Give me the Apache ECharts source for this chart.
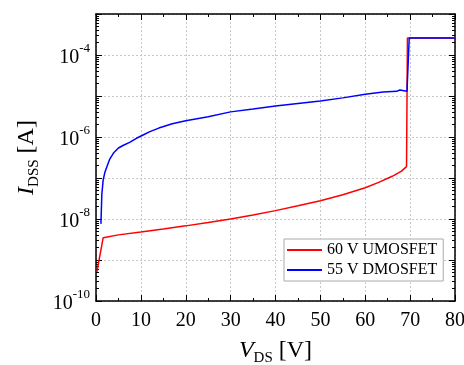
<!DOCTYPE html>
<html>
<head>
<meta charset="utf-8">
<script src="https://cdn.jsdelivr.net/npm/echarts@6/dist/echarts.min.js"></script>
<style>
  html, body { margin: 0; background: #fff; }
  #chart { width: 464px; height: 365px; }
</style>
</head>
<body>
<div id="chart"></div>
<script>
// 60 V UMOSFET
const umosV = [0.2, 1.6, 5, 10, 15, 20, 25, 30, 35, 40, 45, 50, 55, 60, 63, 66, 68, 69.2, 69.4, 80]
const umosI = [5.1e-10, 3.5e-9, 4.1e-9, 4.8e-9, 5.7e-9, 6.8e-9, 8.2e-9, 1.0e-8, 1.25e-8, 1.6e-8, 2.1e-8, 2.8e-8, 3.9e-8, 5.8e-8, 7.8e-8, 1.1e-7, 1.45e-7, 1.9e-7, 2.6e-4, 2.6e-4]

// 55 V DMOSFET
const dmosV = [1.1, 1.3, 1.6, 2, 3, 4, 5, 6, 7.5, 9, 10.5, 12, 14, 17, 20, 25, 30, 35, 40, 45, 50, 55, 60, 64, 67, 67.7, 69.3, 69.8, 80]
const dmosI = [7.6e-9, 4e-8, 9e-8, 1.4e-7, 2.8e-7, 4.2e-7, 5.4e-7, 6.2e-7, 7.4e-7, 9.3e-7, 1.12e-6, 1.35e-6, 1.65e-6, 2.1e-6, 2.5e-6, 3.1e-6, 4.1e-6, 4.8e-6, 5.7e-6, 6.6e-6, 7.6e-6, 9.0e-6, 1.1e-5, 1.25e-5, 1.3e-5, 1.4e-5, 1.3e-5, 2.6e-4, 2.6e-4]

const xMin = 0, xMax = 80, xStep = 10
const yDecades = [-10, -9, -8, -7, -6, -5, -4, -3]
const yLabelExps = [-10, -8, -6, -4]

const font = 'Liberation Serif'
const majorTicks = yDecades.map(e => Math.pow(10, e))
const minorTicks = []
yDecades.slice(0, -1).forEach(e => {
  for (let k = 2; k <= 9; k++) minorTicks.push(k * Math.pow(10, e))
})

const chart = echarts.init(document.getElementById('chart'))

const axisLine = { show: true, lineStyle: { color: '#000', width: 1.5 } }
const gridLine = { show: true, lineStyle: { color: '#c8c8c8', type: [2, 2], width: 1 } }

function yAxisBase(position, ticks, len, withLabels) {
  return {
    type: 'log',
    logBase: 10,
    min: 1e-10,
    max: 1e-3,
    position,
    axisLine: withLabels === null ? { show: false } : axisLine,
    axisTick: { show: true, inside: true, length: len, customValues: ticks, lineStyle: { color: '#000', width: 1 } },
    axisLabel: withLabels ? {
      customValues: yLabelExps.map(e => Math.pow(10, e)),
      margin: 6,
      formatter: v => '{b|10}{e|' + Math.round(Math.log10(v)) + '}',
      rich: {
        b: { fontFamily: font, fontSize: 20, color: '#000', lineHeight: 26, verticalAlign: 'bottom' },
        e: { fontFamily: font, fontSize: 13, color: '#000', lineHeight: 26, verticalAlign: 'top', padding: [0, 0, 10, 0] }
      }
    } : { show: false },
    splitLine: { show: false }
  }
}

const nameRich = {
  i: { fontFamily: font, fontStyle: 'italic', fontSize: 24, color: '#000', lineHeight: 30 },
  s: { fontFamily: font, fontSize: 15, color: '#000', lineHeight: 14, verticalAlign: 'bottom' },
  n: { fontFamily: font, fontSize: 24, color: '#000', lineHeight: 30 }
}

const yMain = yAxisBase('left', majorTicks, 6, true)
yMain.splitLine = gridLine
yMain.name = '{i|I}{s|DSS}{n| [A]}'
yMain.nameLocation = 'middle'
yMain.nameGap = 50
yMain.nameTextStyle = { rich: nameRich }

const xBase = (position, withLabels) => ({
  type: 'value',
  min: xMin,
  max: xMax,
  interval: xStep,
  position,
  axisLine,
  axisTick: { show: true, inside: true, length: 6, lineStyle: { color: '#000', width: 1 } },
  minorTick: { show: true, splitNumber: 2, length: 3, lineStyle: { color: '#000', width: 1 } },
  axisLabel: withLabels ? { margin: 10, fontFamily: font, fontSize: 20, color: '#000' } : { show: false },
  splitLine: { show: false }
})

const xMain = xBase('bottom', true)
xMain.splitLine = gridLine
xMain.name = '{i|V}{s|DS}{n| [V]}'
xMain.nameLocation = 'middle'
xMain.nameGap = 35
xMain.nameTextStyle = { rich: nameRich }

chart.setOption({
  animation: false,
  backgroundColor: '#fff',
  grid: { left: 96, right: 9, top: 14, bottom: 64, outerBoundsMode: 'none' },
  legend: {
    orient: 'vertical',
    left: 284,
    top: 239,
    icon: 'rect',
    itemWidth: 35,
    itemHeight: 2,
    itemGap: 4,
    padding: [3, 6, 3, 3],
    borderColor: '#aaa',
    borderWidth: 1,
    backgroundColor: '#fff',
    textStyle: { fontFamily: font, fontSize: 16, color: '#000' },
    data: ['60 V UMOSFET', '55 V DMOSFET']
  },
  xAxis: [xMain, xBase('top', false)],
  yAxis: [
    yMain,
    yAxisBase('left', minorTicks, 3, null),
    yAxisBase('right', majorTicks, 6, false),
    yAxisBase('right', minorTicks, 3, null)
  ],
  series: [
    {
      name: '60 V UMOSFET',
      type: 'line',
      data: umosV.map((v, i) => [v, umosI[i]]),
      symbol: 'none',
      lineStyle: { color: '#ff0000', width: 1.5 },
      itemStyle: { color: '#ff0000' }
    },
    {
      name: '55 V DMOSFET',
      type: 'line',
      data: dmosV.map((v, i) => [v, dmosI[i]]),
      symbol: 'none',
      lineStyle: { color: '#0000ff', width: 1.5 },
      itemStyle: { color: '#0000ff' }
    }
  ]
})
</script>
</body>
</html>
